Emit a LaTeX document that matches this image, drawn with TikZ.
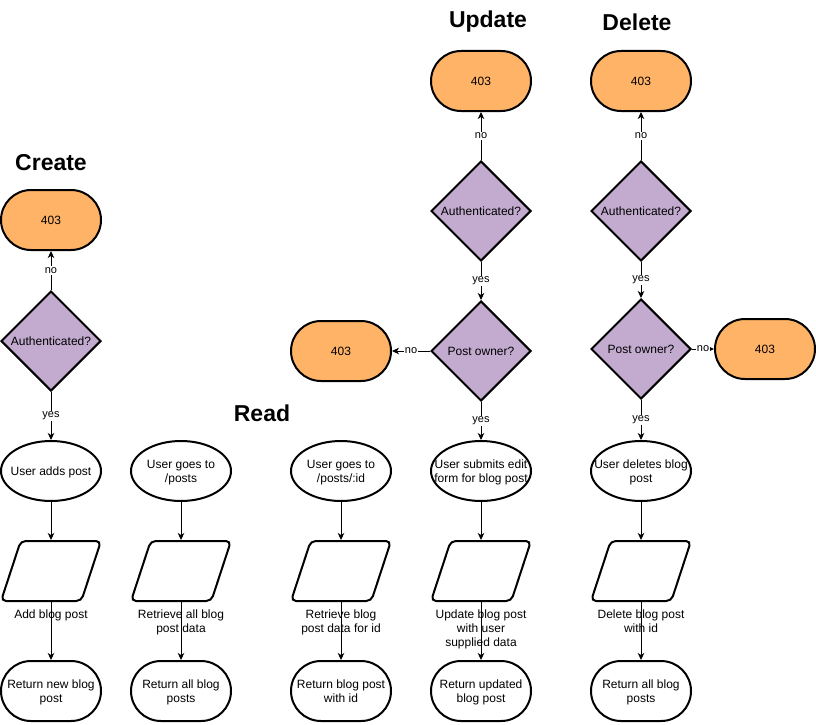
\documentclass[tikz,border=0pt]{standalone}
\usepackage{fontspec}
\setmainfont{Liberation Sans}
\usetikzlibrary{shapes.geometric,arrows.meta}
\definecolor{orange403}{HTML}{FFB366}
\definecolor{lilac}{HTML}{C3ABD0}
\tikzset{
  base/.style={draw=black, line width=2pt, font=\fontsize{12}{14}\selectfont, align=center, inner sep=0pt, text depth=0pt},
  term/.style={base, rectangle, rounded corners=30pt, minimum width=100pt, minimum height=60pt},
  refuse/.style={term, fill=orange403},
  decide/.style={base, diamond, aspect=1, minimum width=100pt, minimum height=100pt, fill=lilac},
  action/.style={base, ellipse, inner xsep=-17pt, minimum width=100pt, minimum height=60pt},
  dataio/.style={base, trapezium, trapezium left angle=72, trapezium right angle=108,
    trapezium stretches=true, inner sep=3pt, minimum width=100pt, minimum height=60pt, rounded corners=5pt},
  flow/.style={-{Stealth[length=7pt,width=6.5pt,inset=2pt]}, line width=1pt},
  cond/.style={fill=white, inner sep=1pt, font=\fontsize{11}{13}\selectfont},
  heading/.style={font=\bfseries\fontsize{23}{28}\selectfont},
  caption/.style={font=\fontsize{12}{14}\selectfont, align=center, inner sep=0pt, label distance=8pt}
}
\begin{document}
\begin{tikzpicture}[x=1pt,y=-1pt]
  \useasboundingbox (0,0) rectangle (816,725);
  %titles
  \node[heading] (hcreate) at (51,163) {Create};
  \node[heading] (hread) at (262,413) {Read};
  \node[heading] (hupdate) at (488,22) {Update};
  \node[heading] (hdelete) at (637,22) {Delete};
  %create
  \node[refuse] (c403) at (51,220) {403};
  \node[decide] (cauth) at (51,341) {Authenticated?};
  \node[action] (cuser) at (51,471) {User adds post};
  \node[dataio, label={[caption]below:Add blog post}] (cdata) at (51,571) {};
  \node[term] (cret) at (51,691) {Return new blog\\post};
  \draw[flow] (cauth) -- node[cond]{no} (c403);
  \draw[flow] (cauth) -- node[cond]{yes} (cuser);
  \draw[flow] (cuser) -- (cdata);
  \draw[flow] (cdata) -- (cret);
  %read all
  \node[action] (ruser) at (181,471) {User goes to\\/posts};
  \node[dataio, label={[caption]below:Retrieve all blog\\post data}] (rdata) at (181,571) {};
  \node[term] (rret) at (181,691) {Return all blog\\posts};
  \draw[flow] (ruser) -- (rdata);
  \draw[flow] (rdata) -- (rret);
  %read one
  \node[action] (iuser) at (341,471) {User goes to\\/posts/:id};
  \node[dataio, label={[caption]below:Retrieve blog\\post data for id}] (idata) at (341,571) {};
  \node[term] (iret) at (341,691) {Return blog post\\with id};
  \draw[flow] (iuser) -- (idata);
  \draw[flow] (idata) -- (iret);
  %update
  \node[refuse] (u403) at (481,81) {403};
  \node[decide] (uauth) at (481,211) {Authenticated?};
  \node[decide] (uown) at (481,351) {Post owner?};
  \node[refuse] (u403b) at (341,351) {403};
  \node[action] (uuser) at (481,471) {User submits edit\\form for blog post};
  \node[dataio, label={[caption]below:Update blog post\\with user\\supplied data}] (udata) at (481,571) {};
  \node[term] (uret) at (481,691) {Return updated\\blog post};
  \draw[flow] (uauth) -- node[cond]{no} (u403);
  \draw[flow] (uauth) -- node[cond]{yes} (uown);
  \draw[flow] (uown) -- node[cond]{no} (u403b);
  \draw[flow] (uown) -- node[cond]{yes} (uuser);
  \draw[flow] (uuser) -- (udata);
  \draw[flow] (udata) -- (uret);
  %delete
  \node[refuse] (d403) at (641,81) {403};
  \node[decide] (dauth) at (641,211) {Authenticated?};
  \node[decide] (down) at (641,349) {Post owner?};
  \node[refuse] (d403b) at (765,349) {403};
  \node[action] (duser) at (641,471) {User deletes blog\\post};
  \node[dataio, label={[caption]below:Delete blog post\\with id}] (ddata) at (641,571) {};
  \node[term] (dret) at (641,691) {Return all blog\\posts};
  \draw[flow] (dauth) -- node[cond]{no} (d403);
  \draw[flow] (dauth) -- node[cond]{yes} (down);
  \draw[flow] (down) -- node[cond]{no} (d403b);
  \draw[flow] (down) -- node[cond]{yes} (duser);
  \draw[flow] (duser) -- (ddata);
  \draw[flow] (ddata) -- (dret);
\end{tikzpicture}
\end{document}
